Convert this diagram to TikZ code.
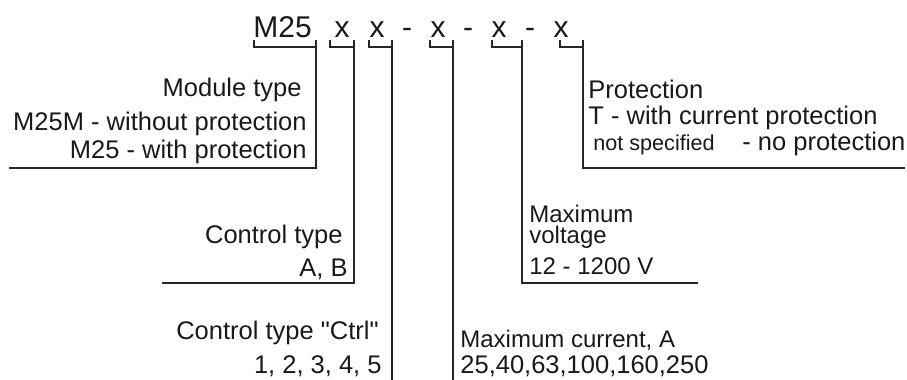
\documentclass[tikz,border=0pt]{standalone}
\usepackage{fontspec}
\setmainfont{Liberation Sans}[Ligatures=TeXOff]
\usetikzlibrary{positioning}
\tikzset{
  hd/.style={font=\fontsize{15}{18}\selectfont,inner sep=0pt,text=black!90},
  tx/.style={font=\fontsize{12.75}{15}\selectfont,inner sep=0pt,text=black!90},
  txs/.style={font=\fontsize{12}{14}\selectfont,inner sep=0pt,text=black!90},
  sm/.style={font=\fontsize{10.8}{12}\selectfont,inner sep=0pt,text=black!90},
  brk/.style={draw=black!85,line width=.7pt},
  ldr/.style={draw=black!85,line width=.7pt},
}
\begin{document}
\begin{tikzpicture}[x=.5pt,y=-.5pt]
\useasboundingbox (0,0) rectangle (907,380);
% the type code
\node[hd,anchor=base west] (M) at (253,38) {M25};
\node[hd,anchor=base] (xa) at (342,38) {x};
\node[hd,anchor=base] (xb) at (377,38) {x};
\node[hd,anchor=base] (da) at (407,38) {-};
\node[hd,anchor=base] (xc) at (438,38) {x};
\node[hd,anchor=base] (db) at (468,38) {-};
\node[hd,anchor=base] (xd) at (499,38) {x};
\node[hd,anchor=base] (dc) at (530,38) {-};
\node[hd,anchor=base] (xe) at (561,38) {x};
% brackets under each field
\foreach \l/\r/\n in {254/316/m,330/354/a,369/392/b,430/453/c,492/522/d,560/583/e} {
  \coordinate (\n l) at (\l,40);
  \coordinate (\n t) at (\r,40);
  \draw[brk] (\n l) -- (\l,47) -- (\r,47);
}
% box corners the leaders run to
\coordinate (modc) at (9,168);
\coordinate (ctlc) at (162,283);
\coordinate (ctrc) at (392,380);
\coordinate (curc) at (453,380);
\coordinate (volc) at (698,283);
\coordinate (proc) at (905,168);
\draw[ldr] (mt) |- (modc);
\draw[ldr] (at) |- (ctlc);
\draw[ldr] (bt) -- (ctrc);
\draw[ldr] (ct) -- (curc);
\draw[ldr] (dt) |- (volc);
\draw[ldr] (et) |- (proc);
% module type
\node[tx,anchor=base east] (mod1) at (302,97) {Module type};
\node[tx,anchor=base east] (mod2) at (307,130) {M25M - without protection};
\node[tx,anchor=base east] (mod3) at (307,158) {M25 - with protection};
% control type
\node[tx,anchor=base east] (ctl1) at (343,243) {Control type};
\node[tx,anchor=base east] (ctl2) at (348,276) {A, B};
\node[tx,anchor=base east] (ctr1) at (379,339) {Control type "Ctrl"};
\node[tx,anchor=base east] (ctr2) at (382,373) {1, 2, 3, 4, 5};
% current and voltage
\node[txs,anchor=base west] (cur1) at (460,347) {Maximum current, A};
\node[tx,anchor=base west] (cur2) at (460,373) {25,40,63,100,160,250};
\node[txs,anchor=base west] (vol1) at (529,222) {Maximum};
\node[txs,anchor=base west] (vol2) at (529,243) {voltage};
\node[txs,anchor=base west] (vol3) at (529,274) {12 - 1200 V};
% protection
\node[tx,anchor=base west] (pro1) at (588,98) {Protection};
\node[tx,anchor=base west] (pro2) at (588,125) {T - with current protection};
\node[sm,anchor=base west] (pro3) at (593,150) {not specified};
\node[tx,anchor=base west] (pro4) at (742,150) {- no protection};
\end{tikzpicture}
\end{document}
